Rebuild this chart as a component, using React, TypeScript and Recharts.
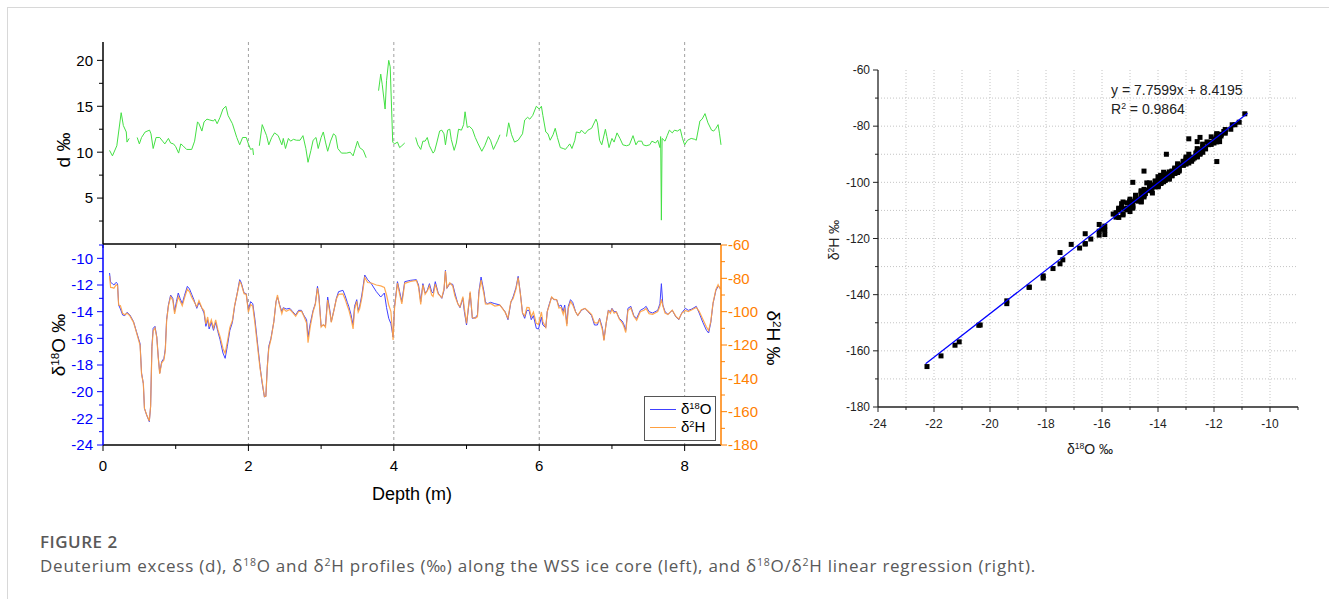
import React from "react";
import { LineChart, Line, XAxis, YAxis, CartesianGrid, ScatterChart, Scatter } from "recharts";

const FONT = "'Liberation Sans', Arial, sans-serif";

// deuterium excess profile (null = gap in record)
const dDepth = [
  0.09, 0.13, 0.19, 0.25, 0.28, 0.32, 0.33, 0.36, 0.41, 0.47,
  0.5, 0.53, 0.58, 0.64, 0.66, 0.69, 0.73, 0.78, 0.82, 0.85,
  0.9, 0.93, 0.97, 1.0, 1.04, 1.07, 1.1, 1.15, 1.22, 1.26,
  1.3, 1.32, 1.36, 1.39, 1.43, 1.47, 1.52, 1.54, 1.57, 1.61,
  1.65, 1.69, 1.72, 1.78, 1.84, 1.88, 1.92, 1.97, 2.0, 2.03,
  2.06, 2.07, 2.11, 2.15, 2.19, 2.23, 2.25, 2.28, 2.32, 2.36,
  2.41, 2.46, 2.48, 2.51, 2.55, 2.58, 2.62, 2.66, 2.71, 2.75,
  2.79, 2.82, 2.86, 2.89, 2.93, 2.96, 3.0, 3.03, 3.06, 3.09,
  3.13, 3.17, 3.2, 3.23, 3.28, 3.35, 3.4, 3.44, 3.47, 3.5,
  3.53, 3.58, 3.62, 3.7, 3.79, 3.82, 3.84, 3.88, 3.9, 3.93,
  3.95, 3.975, 3.985, 4.01, 4.05, 4.08, 4.11, 4.15, 4.22, 4.3,
  4.33, 4.37, 4.4, 4.43, 4.46, 4.49, 4.54, 4.56, 4.59, 4.63,
  4.66, 4.69, 4.71, 4.74, 4.77, 4.79, 4.83, 4.86, 4.89, 4.93,
  4.96, 4.98, 5.01, 5.04, 5.08, 5.12, 5.16, 5.21, 5.25, 5.3,
  5.33, 5.37, 5.4, 5.43, 5.46, 5.5, 5.55, 5.58, 5.62, 5.66,
  5.71, 5.77, 5.8, 5.84, 5.87, 5.91, 5.96, 6.0, 6.03, 6.05,
  6.09, 6.12, 6.15, 6.19, 6.22, 6.25, 6.29, 6.33, 6.36, 6.39,
  6.42, 6.45, 6.49, 6.51, 6.56, 6.58, 6.63, 6.67, 6.72, 6.78,
  6.8, 6.83, 6.86, 6.91, 6.93, 6.96, 7.0, 7.03, 7.07, 7.11,
  7.15, 7.2, 7.24, 7.29, 7.33, 7.36, 7.41, 7.43, 7.47, 7.52,
  7.55, 7.6, 7.63, 7.66, 7.67, 7.68, 7.69, 7.73, 7.76,
  7.79, 7.83, 7.86, 7.9, 7.94, 7.97, 8.0, 8.04, 8.09, 8.14,
  8.16, 8.21, 8.24, 8.28, 8.32, 8.37, 8.4, 8.43, 8.46, 8.48,
  8.5,
];
const dValue = [
  10.2, 9.6, 10.7, 14.3, 12.9, 12.2, 11.1, 11.5, null, 11.6,
  10.9, 11.6, 12.2, 12.4, 12.0, 10.4, 11.6, 11.6, 11.2, 10.9,
  11.5, 11.0, 10.9, 10.6, 9.9, 10.9, 10.7, 10.3, 10.3, 11.2,
  13.3, 13.1, 12.3, 13.3, 13.6, 13.5, 13.4, 13.6, 13.1, 13.8,
  14.7, 15.0, 14.0, 13.1, 11.6, 10.8, 11.6, 11.6, 10.9, 10.3,
  10.4, 9.7, null, 10.7, 13.0, 12.2, 11.8, 10.8, 11.6, 12.1,
  11.8, 10.8, 11.5, 10.4, 11.5, 11.2, 11.4, 11.3, 11.3, 11.8,
  10.4, 8.9, 10.2, 11.3, 11.6, 10.4, 11.6, 12.2, 11.1, 10.1,
  11.2, 12.0, 11.8, 10.4, 9.9, 9.9, 10.0, 9.6, 10.4, 11.2,
  10.5, 10.2, 9.4, null, 16.7, 18.5, 17.4, 14.7, 17.8, 20.0,
  19.3, 13.4, 11.1, 10.9, 11.1, 10.5, 10.7, 11.0, null, 11.6,
  10.8, 10.3, 11.2, 11.2, 11.6, 10.7, 9.9, 10.1, 11.0, 12.3,
  12.4, 12.0, 10.8, 12.4, 12.5, 11.4, 10.2, 11.0, 12.5, 12.4,
  13.0, 14.4, 12.7, 12.8, 12.5, 11.6, 10.9, 10.1, 10.7, 11.7,
  11.3, 10.3, 10.8, 11.3, 11.9, null, 11.7, 13.2, 11.9, 11.1,
  11.3, 12.0, 13.5, 13.8, 13.6, 14.0, 15.0, 14.7, 15.0, 14.0,
  12.2, 12.0, 11.3, 11.9, 12.6, 11.6, 10.5, 10.4, 10.3, 10.6,
  10.9, 10.4, 11.3, 12.2, 12.1, 12.4, 12.0, 12.4, 12.6, 13.6,
  13.2, 11.3, 10.8, 12.5, 11.7, 10.5, 11.5, 11.1, 12.1, 11.5,
  10.8, 10.7, 10.8, 11.8, 10.8, 11.2, 11.2, 10.8, 10.7, 10.8,
  11.2, 11.0, 11.3, 10.5, 11.7, 2.6, 11.5, 11.2, 11.8,
  12.4, 12.1, 12.4, 12.3, 12.5, 11.5, 10.8, 11.3, 11.5, 11.4,
  11.3, 13.4, 13.6, 14.2, 13.2, 12.4, 12.3, 12.6, 13.0, 12.0,
  10.8,
];

// stable isotope profiles
const isoDepth = [
  0.09, 0.105, 0.13, 0.15, 0.18, 0.2, 0.215, 0.24, 0.27, 0.3,
  0.33, 0.37, 0.42, 0.46, 0.51, 0.53, 0.555, 0.57, 0.6, 0.637,
  0.655, 0.673, 0.69, 0.715, 0.74, 0.76, 0.78, 0.807, 0.838, 0.857,
  0.875, 0.9, 0.93, 0.96, 0.985, 1.01, 1.035, 1.06, 1.09, 1.12,
  1.16, 1.19, 1.22, 1.25, 1.29, 1.32, 1.36, 1.39, 1.415, 1.44,
  1.46, 1.49, 1.52, 1.55, 1.58, 1.61, 1.65, 1.68, 1.71, 1.745,
  1.78, 1.81, 1.85, 1.88, 1.9, 1.94, 1.97, 2.0, 2.03, 2.06,
  2.09, 2.12, 2.16, 2.19, 2.22, 2.24, 2.26, 2.28, 2.31, 2.35,
  2.38, 2.4, 2.43, 2.46, 2.48, 2.52, 2.57, 2.61, 2.65, 2.69,
  2.73, 2.76, 2.8, 2.82, 2.85, 2.89, 2.92, 2.95, 2.97, 3.0,
  3.03, 3.06, 3.09, 3.12, 3.14, 3.18, 3.21, 3.24, 3.3, 3.33,
  3.36, 3.38, 3.41, 3.44, 3.46, 3.49, 3.51, 3.53, 3.56, 3.6,
  3.64, 3.69, 3.76, 3.82, 3.87, 3.9, 3.93, 3.96, 3.99, 4.01,
  4.05, 4.08, 4.11, 4.15, 4.23, 4.31, 4.34, 4.37, 4.4, 4.43,
  4.46, 4.49, 4.52, 4.54, 4.57, 4.61, 4.66, 4.69, 4.71, 4.73,
  4.77, 4.81, 4.84, 4.88, 4.91, 4.95, 4.97, 5.0, 5.05, 5.08,
  5.12, 5.15, 5.17, 5.2, 5.24, 5.26, 5.29, 5.33, 5.39, 5.46,
  5.53, 5.57, 5.61, 5.64, 5.68, 5.71, 5.74, 5.77, 5.8, 5.83,
  5.86, 5.89, 5.92, 5.96, 5.99, 6.03, 6.05, 6.09, 6.11, 6.14,
  6.17, 6.2, 6.24, 6.27, 6.3, 6.33, 6.35, 6.38, 6.4, 6.43,
  6.46, 6.5, 6.53, 6.58, 6.63, 6.67, 6.72, 6.76, 6.8, 6.83,
  6.87, 6.89, 6.92, 6.95, 6.98, 7.0, 7.03, 7.06, 7.1, 7.14,
  7.16, 7.19, 7.22, 7.26, 7.3, 7.34, 7.39, 7.44, 7.47, 7.51,
  7.56, 7.63, 7.66, 7.68, 7.7, 7.73, 7.77, 7.83, 7.88, 7.92,
  7.96, 8.01, 8.05, 8.1, 8.16, 8.2, 8.25, 8.3, 8.33, 8.36,
  8.39, 8.43, 8.46, 8.49,
];
const o18Value = [
  -11.1, -11.8, -11.9, -12.0, -11.8, -11.9, -13.5, -13.8, -14.25, -14.3,
  -14.05, -14.25, -14.75, -15.5, -16.4, -18.6, -19.4, -21.25, -21.75, -22.25,
  -21.1, -16.6, -15.25, -15.1, -15.9, -17.4, -18.6, -17.75, -17.5, -16.8,
  -14.6, -13.5, -12.75, -13.0, -14.0, -13.25, -12.6, -13.0, -13.4, -12.8,
  -12.1, -12.3, -12.7, -13.1, -13.75, -13.3, -13.75, -14.1, -15.1, -14.6,
  -15.3, -14.8, -15.4, -14.8, -15.5, -16.1, -17.1, -17.5, -16.6, -15.4,
  -14.8, -13.6, -12.5, -11.6, -11.8, -12.6, -12.65, -13.9, -13.25, -13.4,
  -14.6, -16.1, -18.1, -19.4, -20.4, -20.35, -18.1, -16.6, -16.0, -14.75,
  -13.25, -12.9, -13.5, -14.0, -13.7, -13.8, -13.75, -14.0, -14.25, -13.9,
  -13.9, -14.25, -14.6, -15.9, -14.9, -13.9, -13.4, -12.1, -12.8, -15.1,
  -15.0, -15.05, -12.9, -13.9, -14.75, -13.8, -13.0, -12.5, -12.4, -12.8,
  -13.3, -13.6, -14.2, -15.0, -13.6, -13.1, -13.9, -13.6, -12.75, -11.25,
  -11.6, -11.9, -12.5, -12.9, -12.6, -13.7, -14.5, -14.9, -15.9, -13.6,
  -11.75, -12.5, -13.25, -11.75, -11.65, -11.6, -12.0, -13.25, -11.9, -12.6,
  -12.4, -11.9, -12.5, -12.6, -11.75, -12.6, -13.0, -12.4, -10.9, -12.25,
  -11.9, -11.95, -12.6, -13.4, -13.7, -13.0, -14.0, -15.0, -12.6, -14.5,
  -14.45, -14.25, -12.5, -11.4, -12.5, -13.3, -13.4, -13.3, -13.4, -13.5,
  -14.0, -14.6, -13.3, -12.9, -12.2, -11.35, -12.6, -14.1, -14.5, -13.9,
  -13.9, -14.6, -14.3, -15.25, -15.3, -14.4, -15.0, -15.2, -14.0, -13.4,
  -12.9, -13.1, -13.1, -13.6, -13.5, -14.0, -13.5, -14.9, -13.6, -13.1,
  -13.3, -14.0, -14.3, -13.9, -13.75, -14.0, -14.3, -15.0, -15.0, -14.5,
  -15.25, -16.1, -14.9, -13.9, -14.0, -13.75, -14.0, -14.0, -14.5, -14.7,
  -14.9, -15.4, -13.75, -13.6, -14.3, -14.5, -13.9, -13.75, -13.6, -14.0,
  -14.1, -13.9, -13.4, -11.9, -13.5, -14.0, -14.2, -13.9, -14.4, -14.6,
  -14.1, -13.75, -13.9, -13.8, -13.6, -14.1, -14.8, -15.4, -15.6, -14.8,
  -13.4, -12.4, -12.1, -12.2,
];
const h2Value = [
  -78.6, -85.5, -85.6, -86.0, -83.9, -84.2, -96.0, -96.4, -101.0, -101.9,
  -100.9, -102.5, -106.4, -112.4, -120.2, -137.3, -143.2, -158.0, -161.8, -165.6,
  -156.8, -121.8, -111.6, -109.8, -115.6, -127.6, -137.4, -130.7, -129.0, -123.4,
  -105.5, -96.5, -91.0, -93.1, -101.4, -96.0, -90.9, -93.5, -96.4, -91.9,
  -86.5, -88.1, -91.3, -93.8, -97.0, -93.4, -97.7, -99.5, -107.3, -103.2,
  -108.9, -104.9, -109.8, -104.9, -110.8, -115.0, -122.1, -125.0, -118.3, -109.4,
  -105.3, -96.3, -88.4, -82.0, -83.2, -89.2, -89.6, -100.3, -95.7, -96.8,
  -107.0, -118.8, -134.1, -142.2, -150.9, -150.8, -133.3, -122.0, -116.7, -106.0,
  -94.0, -90.0, -96.5, -101.2, -98.1, -99.8, -98.7, -100.6, -102.7, -99.9,
  -99.7, -102.5, -106.8, -118.6, -109.2, -99.9, -95.7, -85.8, -91.9, -109.2,
  -107.8, -109.3, -93.1, -100.4, -106.4, -98.4, -92.4, -89.6, -89.3, -92.5,
  -96.5, -98.8, -103.8, -110.4, -98.8, -93.8, -100.2, -98.3, -91.7, -79.5,
  -82.5, -82.8, -84.0, -84.5, -85.5, -90.0, -96.0, -100.0, -117.0, -97.9,
  -82.9, -89.5, -95.3, -83.0, -81.9, -81.2, -85.2, -95.7, -84.0, -89.6,
  -87.6, -84.5, -90.0, -90.9, -83.5, -89.3, -91.6, -86.4, -75.6, -85.6,
  -82.7, -84.6, -90.6, -95.2, -97.1, -91.0, -98.0, -107.0, -88.0, -103.5,
  -104.0, -103.0, -89.2, -81.1, -89.5, -95.4, -95.5, -95.1, -96.6, -96.1,
  -100.3, -103.8, -93.9, -92.2, -86.5, -79.5, -89.2, -100.8, -102.5, -97.5,
  -97.6, -103.0, -100.2, -107.0, -107.6, -100.2, -106.0, -109.4, -99.9, -95.9,
  -91.2, -92.5, -92.8, -97.8, -97.5, -101.6, -97.7, -108.7, -98.1, -93.9,
  -95.9, -100.2, -102.2, -98.8, -98.0, -99.6, -101.8, -106.6, -106.8, -104.7,
  -111.2, -117.4, -106.9, -99.5, -101.0, -98.5, -100.9, -100.1, -104.4, -106.7,
  -108.4, -112.5, -99.3, -97.8, -102.8, -105.2, -100.0, -99.2, -98.1, -101.2,
  -101.6, -99.9, -96.7, -92.6, -96.5, -100.8, -101.7, -99.1, -102.8, -104.4,
  -101.0, -99.2, -99.9, -98.9, -97.5, -99.8, -104.6, -109.2, -111.3, -105.8,
  -94.9, -86.6, -83.8, -86.6,
];

// regression line end points (y = 7.7599x + 8.4195)
const fitX = [-22.3, -10.8];
const fitY = [-164.6, -75.4];

// axis ticks
const depthTicks = [0, 1, 2, 3, 4, 5, 6, 7, 8];
const depthLabels = [0, 2, 4, 6, 8];
const dTicks = [2.5, 5, 7.5, 10, 12.5, 15, 17.5, 20];
const dLabels = [5, 10, 15, 20];
const o18Ticks = [-24, -23, -22, -21, -20, -19, -18, -17, -16, -15, -14, -13, -12, -11, -10, -9];
const o18Labels = [-24, -22, -20, -18, -16, -14, -12, -10];
const h2Ticks = [-180, -170, -160, -150, -140, -130, -120, -110, -100, -90, -80, -70, -60];
const h2Labels = [-180, -160, -140, -120, -100, -80, -60];
const scatterXTicks = [-24, -23, -22, -21, -20, -19, -18, -17, -16, -15, -14, -13, -12, -11, -10, -9];
const scatterXLabels = [-24, -22, -20, -18, -16, -14, -12, -10];
const scatterGridX = [-23, -22, -21, -20, -19, -18, -17, -16, -15, -14, -13, -12, -11, -10];
const scatterGridY = [-170, -160, -150, -140, -130, -120, -110, -100, -90, -80, -70];

const dData = dDepth.map((depth, i) => ({ depth, d: dValue[i] }));
const isoData = isoDepth.map((depth, i) => ({ depth, o18: o18Value[i], h2: h2Value[i] }));
const scatterData = o18Value.map((x, i) => ({ x, y: h2Value[i] }));
const fitData = fitX.map((x, i) => ({ x, y: fitY[i] }));

type TickCfg = {
  side: "left" | "right" | "bottom";
  labels: number[];
  stroke: string;
  fill: string;
  size: number;
  major: number;
  minor: number;
  gap: number;
  hideLabels?: boolean;
};

const makeTick = (c: TickCfg) => (p: any) => {
  const v = p.payload.value;
  const isMajor = c.labels.includes(v);
  const len = isMajor ? c.major : c.minor;
  const show = isMajor && !c.hideLabels;
  if (c.side === "left") {
    return (
      <g>
        <line x1={p.x} x2={p.x - len} y1={p.y} y2={p.y} stroke={c.stroke} strokeWidth={1} />
        {show && (
          <text x={p.x - c.major - c.gap} y={p.y} dy="0.36em" textAnchor="end" fill={c.fill} fontSize={c.size} fontFamily={FONT}>
            {v}
          </text>
        )}
      </g>
    );
  }
  if (c.side === "right") {
    return (
      <g>
        <line x1={p.x} x2={p.x + len} y1={p.y} y2={p.y} stroke={c.stroke} strokeWidth={1} />
        {show && (
          <text x={p.x + c.major + c.gap} y={p.y} dy="0.36em" textAnchor="start" fill={c.fill} fontSize={c.size} fontFamily={FONT}>
            {v}
          </text>
        )}
      </g>
    );
  }
  return (
    <g>
      <line x1={p.x} x2={p.x} y1={p.y} y2={p.y + len} stroke={c.stroke} strokeWidth={1} />
      {show && (
        <text x={p.x} y={p.y + c.major + c.gap} dy="0.75em" textAnchor="middle" fill={c.fill} fontSize={c.size} fontFamily={FONT}>
          {v}
        </text>
      )}
    </g>
  );
};

const BLUE = "#0000ff";
const ORANGE = "#ff8000";

const Sup = ({ children }: { children: React.ReactNode }) => (
  <span style={{ fontSize: "0.62em", position: "relative", top: "-0.55em" }}>{children}</span>
);

const Label = ({ cx, cy, deg = 0, size, color = "#000", children }: any) => (
  <div
    style={{
      position: "absolute",
      left: cx,
      top: cy,
      transform: `translate(-50%, -50%) rotate(${deg}deg)`,
      whiteSpace: "nowrap",
      fontSize: size,
      fontFamily: FONT,
      color,
      lineHeight: 1,
    }}
  >
    {children}
  </div>
);

const pointSquare = (p: any) => <rect x={p.cx - 2.5} y={p.cy - 2.5} width={5} height={5} fill="#000" />;

export default function App() {
  return (
    <div style={{ position: "fixed", left: 0, top: 0, width: 1329, height: 599, overflow: "hidden", background: "#fff" }}>
      <div style={{ position: "absolute", left: 7, top: 7, width: 1400, height: 700, border: "1px solid #d8d8d8" }} />

      {/* deuterium excess */}
      <div style={{ position: "absolute", left: 0, top: 0 }}>
        <LineChart width={800} height={260} data={dData} margin={{ top: 42, right: 79, bottom: 12, left: 43 }}>
          <CartesianGrid horizontal={false} verticalValues={[2, 4, 6, 8]} stroke="#a0a0a0" strokeDasharray="3 3" />
          <XAxis
            type="number"
            dataKey="depth"
            domain={[0, 8.5]}
            ticks={depthTicks}
            interval={0}
            height={4}
            tickSize={0}
            tickMargin={0}
            tickLine={false}
            axisLine={{ stroke: "#000", strokeWidth: 1.5 }}
            tick={makeTick({ side: "bottom", labels: depthLabels, stroke: "#000", fill: "#000", size: 15, major: 4, minor: 4, gap: 4, hideLabels: true })}
          />
          <YAxis
            type="number"
            domain={[0, 22]}
            ticks={dTicks}
            interval={0}
            width={60}
            tickSize={0}
            tickMargin={0}
            tickLine={false}
            axisLine={{ stroke: "#000", strokeWidth: 1.5 }}
            tick={makeTick({ side: "left", labels: dLabels, stroke: "#000", fill: "#000", size: 15, major: 6, minor: 4, gap: 4 })}
          />
          <Line type="linear" dataKey="d" stroke="#44e044" strokeWidth={1} dot={false} connectNulls={false} isAnimationActive={false} />
        </LineChart>
      </div>

      {/* d18O and d2H profiles */}
      <div style={{ position: "absolute", left: 0, top: 0 }}>
        <LineChart width={800} height={520} data={isoData} margin={{ top: 245, right: 19, bottom: 35, left: 43 }}>
          <CartesianGrid horizontal={false} verticalValues={[2, 4, 6, 8]} stroke="#a0a0a0" strokeDasharray="3 3" />
          <XAxis
            type="number"
            dataKey="depth"
            domain={[0, 8.5]}
            ticks={depthTicks}
            interval={0}
            height={40}
            tickSize={0}
            tickMargin={0}
            tickLine={false}
            axisLine={{ stroke: "#000", strokeWidth: 1.5 }}
            tick={makeTick({ side: "bottom", labels: depthLabels, stroke: "#000", fill: "#000", size: 15, major: 6, minor: 4, gap: 9 })}
          />
          <YAxis
            yAxisId="o"
            orientation="left"
            type="number"
            domain={[-24, -9]}
            ticks={o18Ticks}
            interval={0}
            width={60}
            tickSize={0}
            tickMargin={0}
            tickLine={false}
            axisLine={{ stroke: BLUE, strokeWidth: 1.5 }}
            tick={makeTick({ side: "left", labels: o18Labels, stroke: BLUE, fill: BLUE, size: 15, major: 6, minor: 4, gap: 4 })}
          />
          <YAxis
            yAxisId="h"
            orientation="right"
            type="number"
            domain={[-180, -60]}
            ticks={h2Ticks}
            interval={0}
            width={60}
            tickSize={0}
            tickMargin={0}
            tickLine={false}
            axisLine={{ stroke: ORANGE, strokeWidth: 1.5 }}
            tick={makeTick({ side: "right", labels: h2Labels, stroke: ORANGE, fill: ORANGE, size: 15, major: 6, minor: 4, gap: 1 })}
          />
          <Line yAxisId="o" type="linear" dataKey="o18" stroke="#4040ff" strokeWidth={1} dot={false} isAnimationActive={false} />
          <Line yAxisId="h" type="linear" dataKey="h2" stroke="#ffa040" strokeWidth={1.2} strokeOpacity={0.9} dot={false} isAnimationActive={false} />
        </LineChart>
      </div>

      <Label cx={63} cy={150} deg={-90} size={19}>d ‰</Label>
      <Label cx={58} cy={345} deg={-90} size={19}>
        δ<Sup>18</Sup>O ‰
      </Label>
      <Label cx={773} cy={338} deg={90} size={19}>
        δ<Sup>2</Sup>H ‰
      </Label>
      <Label cx={412} cy={494} size={18}>Depth (m)</Label>

      {/* legend */}
      <div
        style={{
          position: "absolute",
          left: 644,
          top: 396,
          width: 70,
          height: 43,
          border: "1px solid #555",
          background: "#fff",
          fontFamily: FONT,
          fontSize: 15,
        }}
      >
        {[
          { c: "#4040ff", t: <>δ<Sup>18</Sup>O</> },
          { c: "#ffa040", t: <>δ<Sup>2</Sup>H</> },
        ].map((e, i) => (
          <div key={i} style={{ position: "absolute", left: 5, top: 4 + i * 18, height: 16, display: "flex", alignItems: "center" }}>
            <div style={{ width: 26, height: 0, borderTop: `1px solid ${e.c}` }} />
            <span style={{ marginLeft: 5, lineHeight: 1 }}>{e.t}</span>
          </div>
        ))}
      </div>

      {/* regression */}
      <div style={{ position: "absolute", left: 800, top: 0 }}>
        <ScatterChart width={529} height={500} margin={{ top: 70, right: 31, bottom: 63, left: 28 }}>
          <CartesianGrid verticalValues={scatterGridX} horizontalValues={scatterGridY} stroke="#c4c4c4" strokeDasharray="1 2" />
          <XAxis
            type="number"
            dataKey="x"
            domain={[-24, -9]}
            ticks={scatterXTicks}
            interval={0}
            height={30}
            tickSize={0}
            tickMargin={0}
            tickLine={false}
            axisLine={{ stroke: "#222", strokeWidth: 1.3 }}
            tick={makeTick({ side: "bottom", labels: scatterXLabels, stroke: "#222", fill: "#222", size: 12, major: 5, minor: 3, gap: 7 })}
          />
          <YAxis
            type="number"
            dataKey="y"
            domain={[-180, -60]}
            ticks={h2Ticks}
            interval={0}
            width={50}
            tickSize={0}
            tickMargin={0}
            tickLine={false}
            axisLine={{ stroke: "#222", strokeWidth: 1.3 }}
            tick={makeTick({ side: "left", labels: h2Labels, stroke: "#222", fill: "#222", size: 12, major: 5, minor: 3, gap: 3 })}
          />
          <Scatter data={scatterData} shape={pointSquare} isAnimationActive={false} />
          <Scatter data={fitData} line={{ stroke: "#0000ff", strokeWidth: 1.2 }} shape={() => <g />} isAnimationActive={false} />
        </ScatterChart>
      </div>

      <div style={{ position: "absolute", left: 1111, top: 81, fontFamily: FONT, fontSize: 14, color: "#222", lineHeight: "19px" }}>
        <div>y = 7.7599x + 8.4195</div>
        <div>
          R<Sup>2</Sup> = 0.9864
        </div>
      </div>
      <Label cx={834} cy={240} deg={-90} size={14} color="#222">
        δ<Sup>2</Sup>H ‰
      </Label>
      <Label cx={1090} cy={449} size={14} color="#222">
        δ<Sup>18</Sup>O ‰
      </Label>

      {/* caption */}
      <div style={{ position: "absolute", left: 40, top: 530, fontFamily: "'Open Sans', sans-serif", fontWeight: 600, fontSize: 17, letterSpacing: 0.5, color: "#595959" }}>
        FIGURE 2
      </div>
      <div style={{ position: "absolute", left: 40, top: 554, fontFamily: "'Open Sans', sans-serif", fontSize: 17, letterSpacing: 0.75, color: "#595959", whiteSpace: "nowrap" }}>
        Deuterium excess (d), δ<Sup>18</Sup>O and δ<Sup>2</Sup>H profiles (‰) along the WSS ice core (left), and δ<Sup>18</Sup>O/δ<Sup>2</Sup>H linear regression (right).
      </div>
    </div>
  );
}
